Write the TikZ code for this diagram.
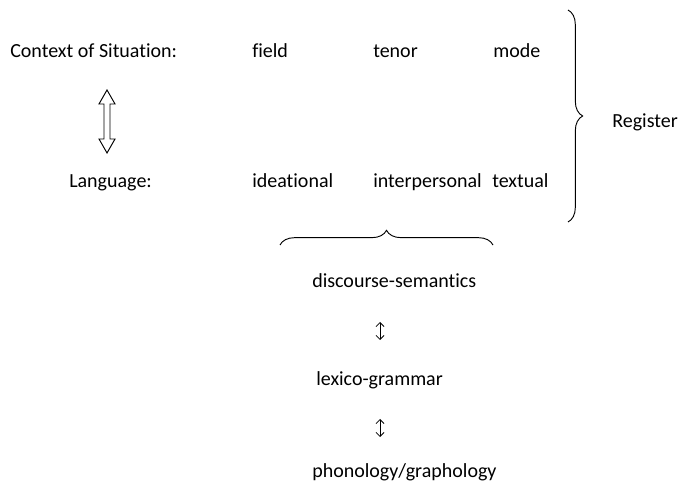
\documentclass[tikz,border=0pt]{standalone}
\usepackage{fontspec}
\setmainfont[Ligatures=NoCommon]{Carlito}
\usetikzlibrary{arrows.meta,decorations.pathreplacing}
\tikzset{
  lbl/.style={anchor=base west, inner sep=0pt, font=\fontsize{15}{18}\selectfont},
  updown/.style={{Straight Barb[length=3pt,width=6pt]}-{Straight Barb[length=3pt,width=6pt]}, line width=0.6pt},
  bracepath/.style={decorate, decoration={brace, amplitude=11pt}, line width=0.7pt}
}
\begin{document}
\begin{tikzpicture}[x=0.75pt, y=-0.75pt]
\useasboundingbox (0, 0) rectangle (679, 488);
% context of situation row
\node [lbl] (ctx)    at (10, 58)  {Context of Situation:};
\node [lbl] (field)  at (252, 58) {field};
\node [lbl] (tenor)  at (373, 58) {tenor};
\node [lbl] (mode)   at (493, 58) {mode};
% language row
\node [lbl] (lang)    at (69, 188)  {Language:};
\node [lbl] (ideat)   at (252, 188) {ideational};
\node [lbl] (interp)  at (373, 188) {interpersonal};
\node [lbl] (textual) at (492, 188) {textual};
\node [lbl] (register) at (612, 128) {Register};
% hollow double arrow
\draw [line width=0.7pt] (107, 90) -- (115, 104) -- (110, 104) -- (110, 139) -- (115, 139)
  -- (107, 153) -- (99, 139) -- (104, 139) -- (104, 104) -- (99, 104) -- cycle;
% braces
\draw [bracepath] (568, 10) -- (568, 222);
\draw [bracepath] (280, 245) -- (493, 245);
% strata
\node [lbl] (disc)    at (312, 288) {discourse-semantics};
\node [lbl] (lexgram) at (316, 386) {lexico-grammar};
\node [lbl] (phono)   at (312, 478) {phonology/graphology};
\coordinate (up1) at (380, 322);
\coordinate (dn1) at (380, 340);
\coordinate (up2) at (380, 419);
\coordinate (dn2) at (380, 437);
\draw [updown] (up1) -- (dn1);
\draw [updown] (up2) -- (dn2);
\end{tikzpicture}
\end{document}
